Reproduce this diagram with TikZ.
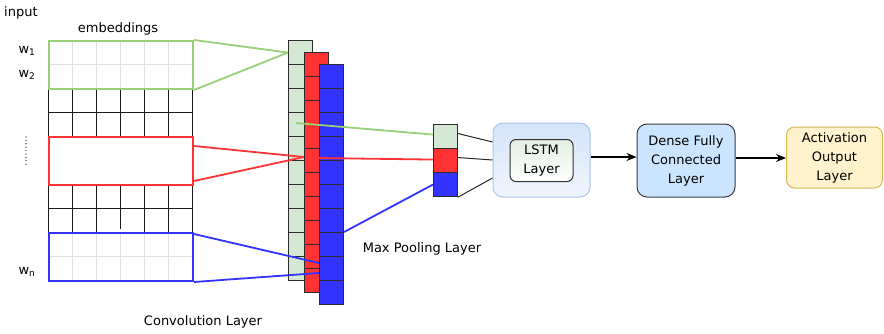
\documentclass[tikz,border=0pt]{standalone}
\usepackage{fontspec}
\setmainfont{DejaVu Sans}
\usetikzlibrary{arrows.meta,calc}

\definecolor{winG}{HTML}{97D077}
\definecolor{winR}{HTML}{FF3333}
\definecolor{winB}{HTML}{3333FF}
\definecolor{mapG}{HTML}{D5E8D4}
\definecolor{cellEdge}{HTML}{2B2B2B}
\definecolor{innerGrid}{HTML}{E0E0E0}
\definecolor{lstmEdge}{HTML}{A9C4EB}
\definecolor{lstmTop}{HTML}{D4E4FA}
\definecolor{denseFill}{HTML}{CCE5FF}
\definecolor{denseEdge}{HTML}{36393D}
\definecolor{actFill}{HTML}{FFF2CC}
\definecolor{actEdge}{HTML}{D6B656}

\begin{document}
\begin{tikzpicture}[x=1pt,y=-1pt,
  every node/.style={inner sep=0pt},
  lbl/.style={font=\fontsize{13}{15}\selectfont},
  boxlbl/.style={font=\fontsize{13}{19}\selectfont, align=center},
  gridln/.style={draw=black!90, line width=0.85pt},
  softln/.style={draw=innerGrid, line width=0.9pt},
  winbox/.style={line width=2pt, minimum width=144pt, minimum height=48pt, anchor=north west},
  fcell/.style={draw=cellEdge, line width=1.1pt, minimum width=24pt, minimum height=24pt, anchor=north west},
  winlink/.style={line width=1.8pt},
  poollink/.style={draw=black!85, line width=1pt},
  flow/.style={draw=black, line width=1.1pt, -{Stealth[length=10pt,width=8pt]}}
]
\useasboundingbox (0,0) rectangle (884,333);

% ---- input matrix: plain rows ----
\foreach \ya/\yb in {88/136, 184/232} {
  \foreach \k in {0,1,2,4,5,6} \draw[gridln] ({48+24*\k},\ya) -- ({48+24*\k},\yb);
}
\draw[gridln] (120,88) -- (120,136);
\draw[gridln] (120,184) -- (120,229);
\foreach \y in {88,112,136,184,208,232} \draw[gridln] (48,\y) -- (192,\y);
% window rows keep faint cell lines
\foreach \yt in {40, 232} {
  \foreach \k in {1,...,5} \draw[softln] ({48+24*\k},\yt) -- ({48+24*\k},{\yt+48});
  \draw[softln] (48,{\yt+24}) -- (192,{\yt+24});
}

% ---- convolution windows ----
\node[winbox, draw=winG] (gwin) at (48,40) {};
\node[winbox, draw=winR, fill=white] (rwin) at (48,136) {};
\node[winbox, draw=winB] (bwin) at (48,232) {};

% ---- labels of the input ----
\node[lbl, anchor=west] (inp) at (4,13) {input};
\node[lbl] (emb) at (118,29) {embeddings};
\node[lbl] (w1) at (27,51) {w\textsubscript{1}};
\node[lbl] (w2) at (27,75) {w\textsubscript{2}};
\node[lbl] (wn) at (27,272) {w\textsubscript{n}};
\foreach \d in {0,...,8} \fill (26,{137+3.4*\d}) circle (0.6pt);
\node[lbl] (conv) at (203,322) {Convolution Layer};

% ---- feature maps ----
\foreach \i in {1,...,10} \node[fcell, fill=mapG] (g\i) at (288,{40+24*(\i-1)}) {};
\draw[winlink, winG] (gwin.north east) -- (g1.west);
\draw[winlink, winG] (gwin.south east) -- (g1.west);

\coordinate (rjoin) at (304,157);
\draw[winlink, winR] ($(rwin.east)+(0,-15)$) -- (rjoin);
\draw[winlink, winR] ($(rwin.east)+(0,20)$) -- (rjoin);
\foreach \i in {1,...,10} \node[fcell, fill=winR] (r\i) at (304,{52+24*(\i-1)}) {};

\coordinate (bjoinA) at (319,263);
\coordinate (bjoinB) at (319,273);
\draw[winlink, winB] ($(bwin.north east)+(0,2)$) -- (bjoinA);
\draw[winlink, winB] (bwin.south east) -- (bjoinB);
\foreach \i in {1,...,10} \node[fcell, fill=winB] (b\i) at (319,{64+24*(\i-1)}) {};

% ---- max pooling ----
\node[fcell, fill=mapG] (p1) at (433,124) {};
\node[fcell, fill=winR] (p2) at (433,148) {};
\node[fcell, fill=winB] (p3) at (433,172) {};
\coordinate (gsrc) at (296,123);
\coordinate (rsrc) at (316,158);
\draw[winlink, winG] (gsrc) -- ($(p1.west)+(0,-2)$);
\draw[winlink, winR] (rsrc) -- ($(p2.west)+(0,-1)$);
\draw[winlink, winB] (b8.north east) -- (p3.west);
\node[lbl] (pool) at (422,249) {Max Pooling Layer};

% ---- recurrent and dense stages ----
\node[draw=lstmEdge, line width=1pt, rounded corners=10pt, top color=lstmTop, bottom color=lstmTop!35,
      minimum width=97pt, minimum height=74pt] (lstm) at (541.5,160) {};
\node[draw=black!80, line width=1pt, rounded corners=6pt, top color=mapG!70, bottom color=white,
      minimum width=63pt, minimum height=42pt, boxlbl] (lstmin) at (541.5,160.5) {LSTM\\Layer};
\draw[poollink] ($(p1.east)+(0,-3)$) -- ($(lstm.west)+(0,-18)$);
\draw[poollink] ($(p2.east)+(0,-3)$) -- (lstm.west);
\draw[poollink] (p3.south east) -- ($(lstm.west)+(0,18)$);

\node[draw=denseEdge, line width=1pt, rounded corners=10pt, fill=denseFill,
      minimum width=98pt, minimum height=73pt, boxlbl] (dense) at (686,160.5) {Dense Fully\\Connected\\Layer};
\node[draw=actEdge, line width=1pt, rounded corners=8pt, fill=actFill,
      minimum width=96pt, minimum height=61pt, boxlbl] (act) at (834.5,157.5) {Activation\\Output\\Layer};

\draw[flow] (lstm.east |- 0,157) -- (dense.west |- 0,157);
\draw[flow] (dense.east |- 0,158) -- (act.west |- 0,158);
\end{tikzpicture}
\end{document}
